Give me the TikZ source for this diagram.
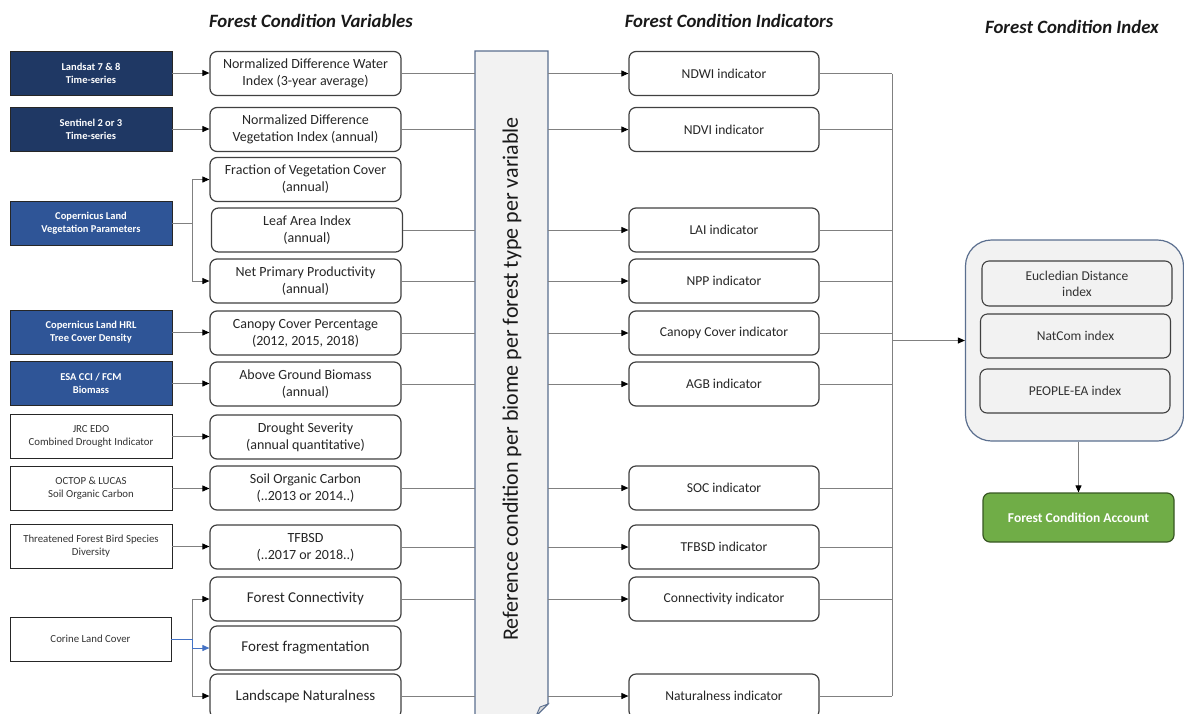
\documentclass[tikz,border=0pt]{standalone}
\usepackage{fontspec}
\setmainfont{Carlito}
\usetikzlibrary{arrows.meta,calc}
\definecolor{navy}{HTML}{1F3864}
\definecolor{midblue}{HTML}{2F5597}
\definecolor{boxline}{HTML}{404040}
\definecolor{connc}{HTML}{808080}
\definecolor{refline}{HTML}{5B6F8F}
\definecolor{reffill}{HTML}{F2F2F2}
\definecolor{fcagreen}{HTML}{70AD47}
\definecolor{fcaline}{HTML}{385723}
\definecolor{linkblue}{HTML}{4472C4}
\begin{document}
\begin{tikzpicture}[x=1pt,y=-1pt,
  srcbox/.style={draw=black!85, line width=0.9pt, minimum width=162pt, minimum height=44pt, inner sep=1pt, align=center, font=\fontsize{10.8}{13}\selectfont},
  srcdark/.style={srcbox, fill=navy, text=white, font=\fontsize{10.5}{13}\selectfont\bfseries},
  srcblue/.style={srcbox, fill=midblue, text=white, font=\fontsize{10.5}{13}\selectfont\bfseries},
  srcwhite/.style={srcbox, fill=white, text=black!80},
  varbox/.style={draw=boxline, line width=1.2pt, rounded corners=7pt, fill=white, minimum width=191pt, minimum height=44pt, inner sep=1pt, align=center, text=black!85, font=\fontsize{14}{17}\selectfont},
  bigvar/.style={varbox, font=\fontsize{15}{17}\selectfont},
  indbox/.style={varbox, minimum width=190pt, font=\fontsize{13.6}{16}\selectfont},
  innerbox/.style={draw=boxline, line width=1.1pt, rounded corners=7pt, fill=reffill, minimum width=190pt, minimum height=44pt, inner sep=1pt, align=center, text=black!80, font=\fontsize{13.5}{16}\selectfont},
  header/.style={font=\fontsize{18.8}{20}\selectfont\bfseries\itshape, text=black!90},
  conn/.style={draw=connc, line width=0.9pt},
  arr/.style={conn, -{Triangle[length=7pt,width=6pt,color=black]}},
  bluearr/.style={draw=linkblue, line width=0.9pt, -{Triangle[length=7pt,width=6pt,color=linkblue]}}
]
\useasboundingbox (0,0) rectangle (1184,713);
\clip (0,0) rectangle (1184,713);

% headers
\node[header] (h1) at (311,21) {Forest Condition  Variables};
\node[header] (h2) at (729,21) {Forest Condition  Indicators};
\node[header] (h3) at (1072,27) {Forest Condition Index};

% sources
\node[srcdark] (s1) at (91,73) {Landsat 7 \& 8\\Time-series};
\node[srcdark] (s2) at (91,129) {Sentinel 2 or 3\\Time-series};
\node[srcblue] (s3) at (91,223) {Copernicus Land\\Vegetation Parameters};
\node[srcblue] (s4) at (91,332.5) {Copernicus Land HRL\\Tree Cover Density};
\node[srcblue] (s5) at (91,383.5) {ESA CCI / FCM\\Biomass};
\node[srcwhite] (s6) at (91,436.5) {JRC EDO\\Combined Drought Indicator};
\node[srcwhite] (s7) at (91,488.5) {OCTOP \& LUCAS\\Soil Organic Carbon};
\node[srcwhite] (s8) at (91,546.5) {Threatened Forest Bird Species\\Diversity};
\node[srcwhite, minimum width=161pt] (s9) at (90.5,639) {Corine Land Cover};

% variables
\node[varbox] (v1) at (305.5,73.5) {Normalized Difference Water\\Index (3-year average)};
\node[varbox] (v2) at (305.5,129.5) {Normalized Difference\\Vegetation Index (annual)};
\node[varbox] (v3) at (305.5,179.5) {Fraction of Vegetation Cover\\(annual)};
\node[varbox] (v4) at (307,230) {Leaf Area Index\\(annual)};
\node[varbox] (v5) at (305.5,281) {Net Primary Productivity\\(annual)};
\node[varbox] (v6) at (305.5,333) {Canopy Cover  Percentage\\(2012, 2015, 2018)};
\node[varbox] (v7) at (305.5,384) {Above Ground Biomass\\(annual)};
\node[varbox] (v8) at (305.5,437) {Drought Severity\\(annual quantitative)};
\node[varbox] (v9) at (305.5,488) {Soil Organic Carbon\\(..2013 or 2014..)};
\node[varbox] (v10) at (305.5,547) {TFBSD\\(..2017 or 2018..)};
\node[bigvar] (v11) at (305.5,599) {Forest Connectivity};
\node[bigvar] (v12) at (305.5,648) {Forest fragmentation};
\node[bigvar] (v13) at (305.5,696) {Landscape Naturalness};

% reference box
\node[minimum width=73pt, minimum height=665pt, inner sep=0] (ref) at (511.5,383.5) {};
\draw[draw=refline, fill=reffill, line width=1.1pt] (475,51) -- (548,51) -- (548,704) -- (536,716) -- (475,716) -- cycle;
\draw[draw=refline, fill=reffill!80!gray, line width=0.9pt] (548,704) -- (540,707) -- (536,716) -- cycle;
\node[rotate=90, font=\fontsize{22}{24}\selectfont, text=black!90] (reftext) at (512,379) {Reference  condition  per biome  per forest type  per variable};

% indicators
\node[indbox] (i1) at (724,73.5) {NDWI indicator};
\node[indbox] (i2) at (724,129.5) {NDVI indicator};
\node[indbox] (i4) at (724,230) {LAI indicator};
\node[indbox] (i5) at (724,281) {NPP indicator};
\node[indbox] (i6) at (724,333) {Canopy Cover  indicator};
\node[indbox] (i7) at (724,384) {AGB indicator};
\node[indbox] (i9) at (724,488) {SOC indicator};
\node[indbox] (i10) at (724,547) {TFBSD indicator};
\node[indbox] (i11) at (724,599) {Connectivity  indicator};
\node[indbox] (i13) at (724,696) {Naturalness indicator};

% index container
\node[draw=refline, line width=1.2pt, fill=reffill, rounded corners=26pt, minimum width=218pt, minimum height=201pt, inner sep=0] (fci) at (1074.5,340.5) {};
\node[innerbox, minimum height=45pt] (e1) at (1077,283.5) {Eucledian Distance\\index};
\node[innerbox] (e2) at (1075.5,336) {NatCom index};
\node[innerbox] (e3) at (1075,391) {PEOPLE-EA index};
\node[draw=fcaline, line width=1.2pt, fill=fcagreen, rounded corners=7pt, minimum width=191pt, minimum height=49pt, text=white, font=\fontsize{13.5}{15}\selectfont\bfseries] (fca) at (1078.5,517.5) {Forest Condition Account};

% source -> variable
\foreach \s/\v in {s1/v1,s2/v2,s4/v6,s5/v7,s6/v8,s7/v9,s8/v10}{
  \draw[arr] (\s.east) -- (\s.east -| \v.west);
}
% Copernicus vegetation branch
\coordinate (b1) at (192,223);
\draw[conn] (s3.east) -- (b1);
\draw[conn] (b1 |- v3.west) -- (b1 |- v5.west);
\draw[arr] (b1 |- v3.west) -- (v3.west);
\draw[arr] (b1 |- v5.west) -- (v5.west);
% Corine branch
\coordinate (b2) at (192,639);
\draw[conn] (b2 |- v11.west) -- (b2 |- v13.west);
\draw[arr] (b2 |- v11.west) -- (v11.west);
\draw[arr] (b2 |- v13.west) -- (v13.west);
\draw[bluearr] (s9.east) -- (b2) -- (b2 |- v12.west) -- (v12.west);

% variable -> reference -> indicator
\foreach \v/\i in {v1/i1,v2/i2,v4/i4,v5/i5,v6/i6,v7/i7,v9/i9,v10/i10,v11/i11,v13/i13}{
  \draw[conn] (\v.east) -- (\v.east -| ref.west);
  \draw[arr] (\i.west -| ref.east) -- (\i.west);
}

% indicators -> bracket
\coordinate (brk) at (892,0);
\foreach \i in {i1,i2,i4,i5,i6,i7,i9,i10,i11,i13}{
  \draw[conn] (\i.east) -- (\i.east -| brk);
}
\draw[conn] (brk |- i1.east) -- (brk |- i13.east);
\draw[arr] (brk |- fci.west) -- (fci.west);
\draw[arr] (fca.north |- fci.south) -- (fca.north);
\end{tikzpicture}
\end{document}
